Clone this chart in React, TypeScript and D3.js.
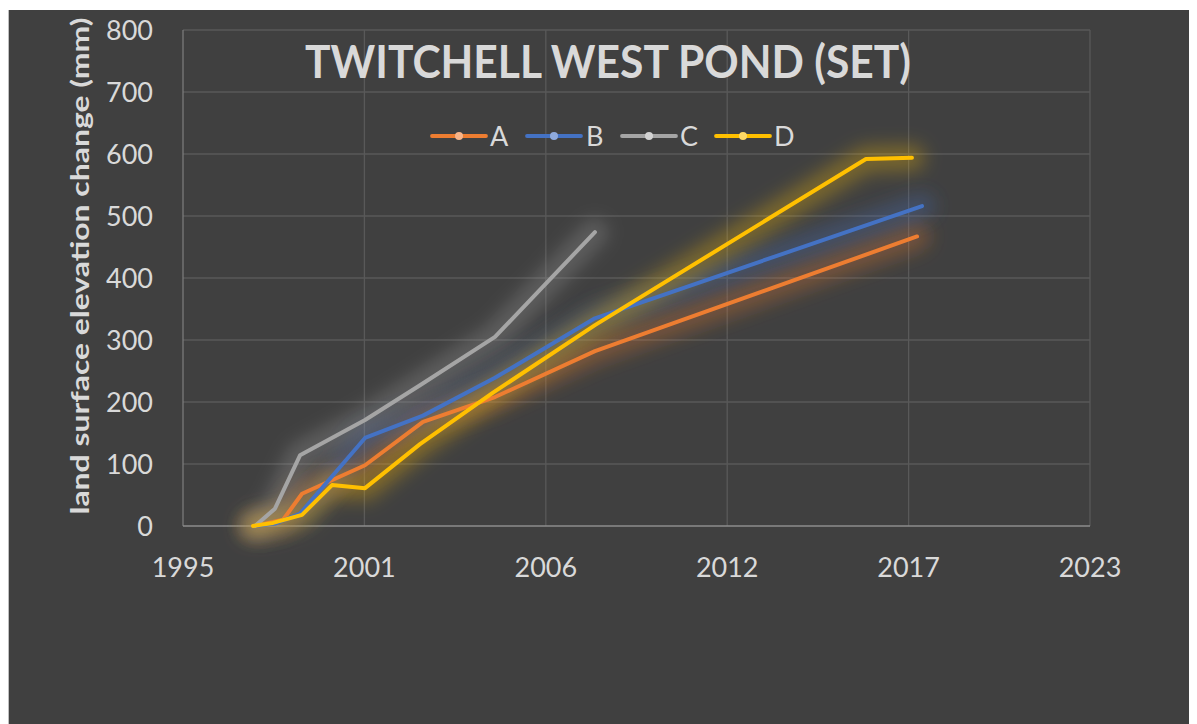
import React from "react";
import * as d3 from "d3";

const title = "TWITCHELL WEST POND (SET)";
const yTitle = "land surface elevation change (mm)";

// x-axis ticks (Excel date axis, major unit 2000 days)
const xTickDates = ["1995-10-28", "2001-04-19", "2006-10-10", "2012-04-01", "2017-09-22", "2023-03-15"];
const xTickLabels = ["1995", "2001", "2006", "2012", "2017", "2023"];
const yTicks = [0, 100, 200, 300, 400, 500, 600, 700, 800];

const seriesNames = ["A", "B", "C", "D"];
const seriesColors = ["#ED7D31", "#4472C4", "#A5A5A5", "#FFC000"];
const markerColors = ["#F7B489", "#8FAADC", "#D3D3D3", "#FFD966"];

const seriesA: [string, number][] = [
  ["1997-12-20", 0], ["1998-11-04", 10], ["1999-06-01", 52], ["2001-04-26", 98],
  ["2003-01-25", 168], ["2005-03-29", 208], ["2008-04-04", 282], ["2017-12-24", 467],
];
const seriesB: [string, number][] = [
  ["1997-12-20", 0], ["1998-08-07", 4], ["1999-05-10", 20], ["2001-04-26", 142],
  ["2003-01-25", 178], ["2005-03-29", 239], ["2008-04-04", 335], ["2018-02-17", 516],
];
const seriesC: [string, number][] = [
  ["1997-12-30", 0], ["1998-08-07", 28], ["1999-05-10", 114], ["2001-04-26", 171],
  ["2002-12-23", 227], ["2005-03-29", 305], ["2008-04-04", 474],
];
const seriesD: [string, number][] = [
  ["1997-12-08", 0], ["1998-07-16", 5], ["1999-06-01", 18], ["2000-04-27", 66],
  ["2001-04-26", 61], ["2002-12-23", 132], ["2005-03-07", 215], ["2008-04-04", 324],
  ["2016-06-09", 592], ["2017-10-29", 594],
];
const allSeries = [seriesA, seriesB, seriesC, seriesD];

const W = 1189;
const H = 716;
const plot = { left: 183, right: 1090, top: 30, bottom: 526 };
const font = "Lato, 'Open Sans', sans-serif";
const textColor = "#D9D9D9";

export default function App() {
  const parse = (s: string) => new Date(s + "T00:00:00Z");
  const x = d3.scaleUtc()
    .domain([parse(xTickDates[0]), parse(xTickDates[xTickDates.length - 1])])
    .range([plot.left, plot.right]);
  const y = d3.scaleLinear().domain([0, 800]).range([plot.bottom, plot.top]);
  const line = d3.line<[string, number]>()
    .x((d) => x(parse(d[0])))
    .y((d) => y(d[1]));

  const legendItems = [
    { lx: 432, tx: 490 },
    { lx: 527, tx: 586 },
    { lx: 622, tx: 680 },
    { lx: 716, tx: 774 },
  ];
  const legendY = 136;

  return (
    <svg width={W} height={H} style={{ display: "block" }}>
      <defs>
        <filter id="glow" x="-30%" y="-30%" width="160%" height="160%">
          <feGaussianBlur stdDeviation="9" />
        </filter>
      </defs>
      <g transform="translate(-8,-8)">
        <rect x={8} y={8} width={W} height={H} fill="#FFFFFF" />
        <rect x={8} y={10} width={W} height={H} fill="#404040" />
        <line x1={8.5} x2={8.5} y1={10} y2={724} stroke="#BFBFBF" strokeWidth={1} />

        {/* gridlines */}
        {yTicks.filter((t) => t > 0).map((t) => (
          <line key={"gy" + t} x1={plot.left} x2={plot.right} y1={y(t)} y2={y(t)} stroke="#595959" strokeWidth={1.3} />
        ))}
        {xTickDates.slice(1).map((d) => (
          <line key={"gx" + d} x1={x(parse(d))} x2={x(parse(d))} y1={plot.top} y2={plot.bottom} stroke="#595959" strokeWidth={1.3} />
        ))}
        <line x1={plot.left} x2={plot.left} y1={plot.top} y2={plot.bottom} stroke="#7A7A7A" strokeWidth={1.3} />
        <line x1={plot.left} x2={plot.right} y1={plot.bottom} y2={plot.bottom} stroke="#8C8C8C" strokeWidth={1.6} />

        {/* y tick labels */}
        {yTicks.map((t) => (
          <text key={"yl" + t} x={153} y={y(t) + 10} textAnchor="end" fontFamily={font} fontSize={27} fill={textColor}>
            {t}
          </text>
        ))}
        {/* x tick labels */}
        {xTickDates.map((d, i) => (
          <text key={"xl" + d} x={x(parse(d))} y={577} textAnchor="middle" fontFamily={font} fontSize={27} fill={textColor}>
            {xTickLabels[i]}
          </text>
        ))}

        {/* glow */}
        {allSeries.map((s, i) => (
          <path key={"glow" + i} d={line(s) || ""} fill="none" stroke={seriesColors[i]} strokeWidth={26}
            strokeOpacity={0.3} strokeLinejoin="round" strokeLinecap="round" filter="url(#glow)" />
        ))}
        {/* lines */}
        {allSeries.map((s, i) => (
          <path key={"line" + i} d={line(s) || ""} fill="none" stroke={seriesColors[i]} strokeWidth={4}
            strokeLinejoin="round" strokeLinecap="round" />
        ))}

        {/* title */}
        <text x={608} y={78} textAnchor="middle" fontFamily={font} fontWeight="bold" fontSize={45}
          fill={textColor} textLength={606} lengthAdjust="spacingAndGlyphs">
          {title}
        </text>

        {/* legend */}
        {seriesNames.map((n, i) => (
          <g key={"lg" + n}>
            <line x1={legendItems[i].lx} x2={legendItems[i].lx + 54} y1={legendY} y2={legendY}
              stroke={seriesColors[i]} strokeWidth={3.8} strokeLinecap="round" />
            <circle cx={legendItems[i].lx + 27} cy={legendY} r={4} fill={markerColors[i]} />
            <text x={legendItems[i].tx} y={legendY + 10} fontFamily={font} fontSize={27} fill={textColor}>
              {n}
            </text>
          </g>
        ))}

        {/* y axis title */}
        <text transform={`translate(89,266) rotate(-90)`} textAnchor="middle" fontFamily={font}
          fontWeight="bold" fontSize={25} fill={textColor} textLength={497} lengthAdjust="spacingAndGlyphs">
          {yTitle}
        </text>
      </g>
    </svg>
  );
}
